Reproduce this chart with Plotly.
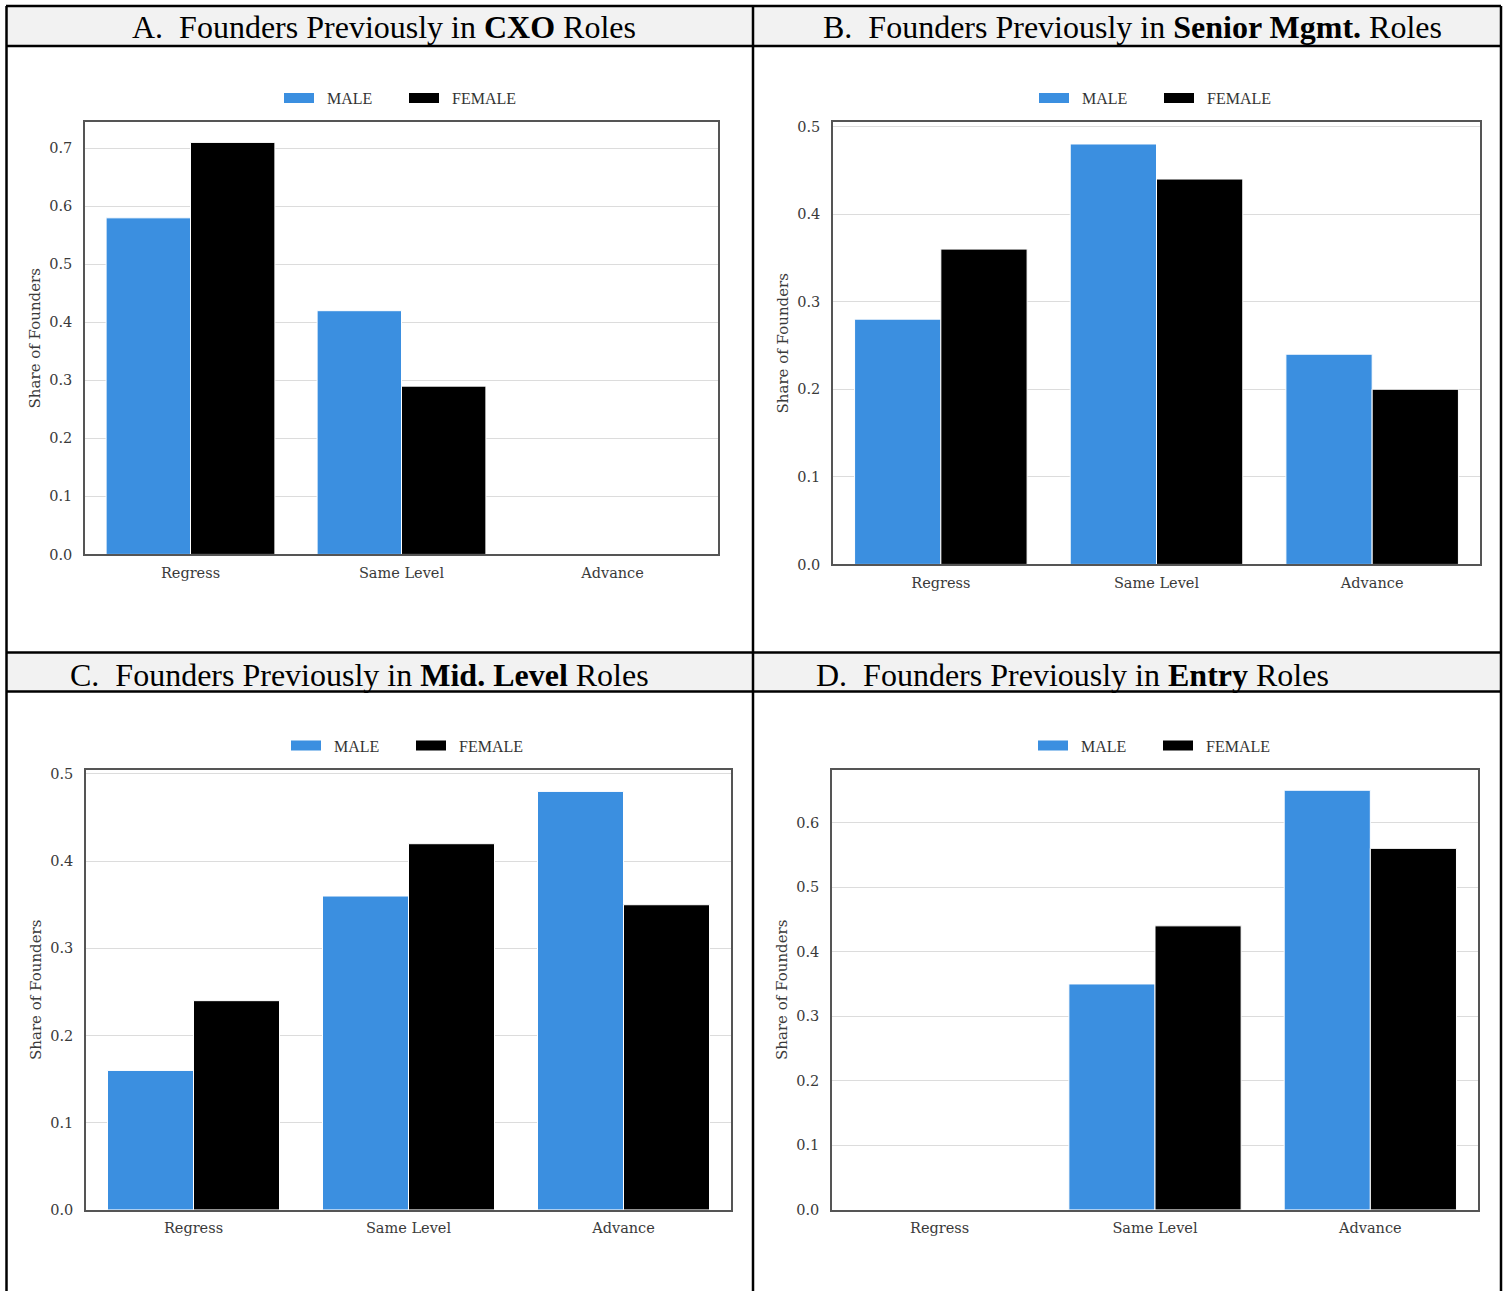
import plotly.graph_objects as go

W = 1507
H = 1300          # figure height
Y_OFF = 4         # observed vertical offset of the photographed page
Y_SCALE = 0.99    # observed vertical scale of the photographed page

categories = ["Regress", "Same Level", "Advance"]
series_names = ["MALE", "FEMALE"]

cxo_male = [0.58, 0.42, 0.0]
cxo_female = [0.71, 0.29, 0.0]
senior_male = [0.28, 0.48, 0.24]
senior_female = [0.36, 0.44, 0.20]
mid_male = [0.16, 0.36, 0.48]
mid_female = [0.24, 0.42, 0.35]
entry_male = [0.0, 0.35, 0.65]
entry_female = [0.0, 0.44, 0.56]

panel_titles = [
    "A.\u00a0 Founders Previously in <b>CXO</b> Roles",
    "B.\u00a0 Founders Previously in <b>Senior Mgmt.</b> Roles",
    "C.\u00a0 Founders Previously in <b>Mid. Level</b> Roles",
    "D.\u00a0 Founders Previously in <b>Entry</b> Roles",
]
y_ticks_a = [0.0, 0.1, 0.2, 0.3, 0.4, 0.5, 0.6, 0.7]
y_ticks_b = [0.0, 0.1, 0.2, 0.3, 0.4, 0.5]
y_ticks_c = [0.0, 0.1, 0.2, 0.3, 0.4, 0.5]
y_ticks_d = [0.0, 0.1, 0.2, 0.3, 0.4, 0.5, 0.6]

MALE_C = "#3b8fe0"
FEMALE_C = "#000000"
TICK_FONT = dict(family="DejaVu Serif", size=14.5, color="#3a3a3a")
SERIF = "Liberation Serif"


def px(x):
    return x / W


def py(y):
    return 1 - ((y - Y_OFF) / Y_SCALE) / H


# panel geometry in pixels: (x0, x1, y_top, y_bottom), y max, legend centre
panels = [
    dict(m=cxo_male, f=cxo_female, ticks=y_ticks_a, box=(85, 718, 122, 554), ymax=0.745, leg=(404, 98)),
    dict(m=senior_male, f=senior_female, ticks=y_ticks_b, box=(833, 1480, 122, 564), ymax=0.505, leg=(1159, 98)),
    dict(m=mid_male, f=mid_female, ticks=y_ticks_c, box=(86, 731, 769, 1209), ymax=0.505, leg=(411, 745)),
    dict(m=entry_male, f=entry_female, ticks=y_ticks_d, box=(832, 1478, 769, 1209), ymax=0.682, leg=(1158, 745)),
]

fig = go.Figure()
layout = dict(
    width=W, height=H,
    margin=dict(l=0, r=0, t=0, b=0),
    paper_bgcolor="white", plot_bgcolor="white",
    barmode="group", bargap=0.2, bargroupgap=0.0,
    shapes=[], annotations=[],
)

for i, p in enumerate(panels):
    n = "" if i == 0 else str(i + 1)
    xa, ya = "x" + n, "y" + n
    leg = "legend" + n
    x0, x1, yt, yb = p["box"]
    fig.add_trace(go.Bar(x=categories, y=p["m"], name=series_names[0], marker=dict(color=MALE_C, line=dict(color="white", width=1)),
                         xaxis=xa, yaxis=ya, showlegend=False))
    fig.add_trace(go.Bar(x=categories, y=p["f"], name=series_names[1], marker=dict(color=FEMALE_C, line=dict(color="white", width=1)),
                         xaxis=xa, yaxis=ya, showlegend=False))
    # legend entries (wide swatches)
    for nm, col in zip(series_names, [MALE_C, FEMALE_C]):
        fig.add_trace(go.Scatter(x=[None], y=[None], mode="lines", name="\u00a0\u00a0" + nm,
                                 line=dict(color=col, width=10), xaxis=xa, yaxis=ya, legend=leg, showlegend=True,
                                 hoverinfo="skip"))
    layout["xaxis" + n] = dict(
        domain=[px(x0), px(x1)], anchor=ya, type="category", categoryorder="array", categoryarray=categories,
        showline=True, linecolor="#555555", linewidth=1.5, mirror=True, showgrid=False, ticks="",
        tickfont=TICK_FONT, ticklabelstandoff=4, zeroline=False,
    )
    layout["yaxis" + n] = dict(
        domain=[py(yb), py(yt)], anchor=xa, range=[0, p["ymax"]], tickvals=p["ticks"], tickformat=".1f",
        showline=True, linecolor="#555555", linewidth=1.5, mirror=True, showgrid=True, gridcolor="#dcdcdc",
        gridwidth=1, zeroline=False, ticks="", tickfont=TICK_FONT, ticklabelstandoff=8,
        title=dict(text="Share of Founders", font=dict(family="DejaVu Serif", size=15, color="#3a3a3a"), standoff=5),
    )
    lx, ly = p["leg"]
    layout[leg] = dict(
        orientation="h", x=px(lx), y=py(ly), xanchor="center", yanchor="middle",
        font=dict(family=SERIF, size=16, color="#333333"), bgcolor="rgba(0,0,0,0)",
        itemwidth=30, tracegroupgap=0, entrywidth=80, entrywidthmode="pixels",
    )

# table structure: header bands and borders
for y0, y1 in [(6, 46), (652, 691)]:
    layout["shapes"].append(dict(type="rect", xref="paper", yref="paper", x0=px(6), x1=px(1501), y0=py(y1), y1=py(y0),
                                 fillcolor="#f2f2f2", line=dict(width=0), layer="below"))
line_style = dict(color="black", width=2.5)
for y in [6, 46, 652, 691]:
    layout["shapes"].append(dict(type="line", xref="paper", yref="paper", x0=px(6), x1=px(1501), y0=py(y), y1=py(y), line=line_style))
for x in [6.5, 753, 1501]:
    layout["shapes"].append(dict(type="line", xref="paper", yref="paper", x0=px(x), x1=px(x), y0=py(6), y1=0, line=line_style))

title_pos = [(384, 27), (1132, 27), (359, 674), (1072, 674)]
for t, (tx, ty) in zip(panel_titles, title_pos):
    layout["annotations"].append(dict(text=t, xref="paper", yref="paper", x=px(tx), y=py(ty), xanchor="center", yanchor="middle",
                                      showarrow=False, font=dict(family=SERIF, size=32, color="black")))

fig.update_layout(**layout)

page_fix = (
    "var s=document.createElement('style');"
    "s.textContent='html,body{margin:0!important;padding:0!important;overflow:hidden!important;}';"
    "document.head.appendChild(s);"
)
fig.write_html("out.html", config={"displayModeBar": False}, post_script=page_fix)
